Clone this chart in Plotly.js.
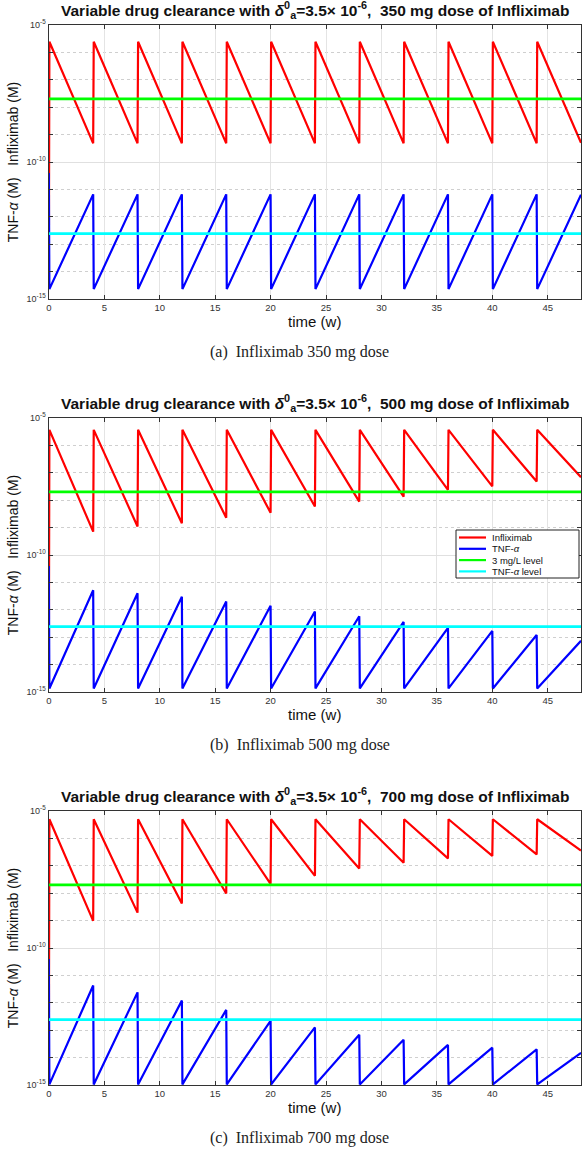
<!DOCTYPE html>
<html><head><meta charset="utf-8">
<script src="https://cdn.plot.ly/plotly-3.0.1.min.js"></script>
<style>html,body{margin:0;padding:0;background:#fff;} #chart{width:582px;height:1151px;}</style>
</head><body><div id="chart"></div>
<script>
// ---------------- data ----------------
const doseTimes   = [0, 4, 8, 12, 16, 20, 24, 28, 32, 36, 40, 44];
const troughTimes = [4, 8, 12, 16, 20, 24, 28, 32, 36, 40, 44, 48];
const doseLabels = ['350', '500', '700'];
const captionLetters = ['a', 'b', 'c'];
const xTicks = [0, 5, 10, 15, 20, 25, 30, 35, 40, 45];
const yTickVals = [1e-15, 1e-10, 1e-5];
const yTickText = ['10<sup>-15</sup>', '10<sup>-10</sup>', '10<sup>-5</sup>'];
const yMinorVals = [1e-14, 1e-13, 1e-12, 1e-11, 1e-9, 1e-8, 1e-7, 1e-6];
const seriesNames = ['Infliximab', 'TNF-α', '3 mg/L level', 'TNF-α level'];
const legendNames = ['Infliximab', 'TNF-<i>α</i>', '3 mg/L level', 'TNF-<i>α</i> level'];

const ifxInitial = 1e-14;     // before first infusion (hidden under TNF-α)
const tnfInitial = 4e-11;     // baseline TNF-α at t = 0
const ifxThreshold = 2.0e-8;  // 3 mg/L
const tnfThreshold = 2.45e-13;

// 350 mg
const ifx350Peak   = [2.45e-6, 2.45e-6, 2.45e-6, 2.45e-6, 2.45e-6, 2.45e-6, 2.45e-6, 2.45e-6, 2.45e-6, 2.45e-6, 2.45e-6, 2.45e-6];
const ifx350Trough = [4.8e-10, 4.8e-10, 4.8e-10, 4.8e-10, 4.8e-10, 4.8e-10, 4.8e-10, 4.8e-10, 4.8e-10, 4.8e-10, 4.8e-10, 5.0e-10];
const tnf350Trough = [2.3e-15, 2.3e-15, 2.3e-15, 2.3e-15, 2.3e-15, 2.3e-15, 2.3e-15, 2.3e-15, 2.3e-15, 2.3e-15, 2.3e-15, 2.3e-15];
const tnf350Peak   = [6.6e-12, 6.6e-12, 6.6e-12, 6.6e-12, 6.6e-12, 6.6e-12, 6.6e-12, 6.6e-12, 6.6e-12, 6.6e-12, 6.6e-12, 6.4e-12];

// 500 mg
const ifx500Peak   = [3.7e-6, 3.7e-6, 3.7e-6, 3.7e-6, 3.7e-6, 3.7e-6, 3.7e-6, 3.7e-6, 3.7e-6, 3.7e-6, 3.7e-6, 3.7e-6];
const ifx500Trough = [7.1e-10, 1.1e-9, 1.44e-9, 2.3e-9, 3.5e-9, 5.9e-9, 8.9e-9, 1.35e-8, 2.4e-8, 3.2e-8, 4.8e-8, 6.9e-8];
const tnf500Trough = [1.35e-15, 1.35e-15, 1.35e-15, 1.35e-15, 1.35e-15, 1.35e-15, 1.35e-15, 1.35e-15, 1.35e-15, 1.35e-15, 1.35e-15, 1.35e-15];
const tnf500Peak   = [5.2e-12, 4.0e-12, 3.0e-12, 2.0e-12, 1.4e-12, 8.7e-13, 5.8e-13, 3.6e-13, 2.2e-13, 1.7e-13, 1.2e-13, 7.4e-14];

// 700 mg
const ifx700Peak   = [5.0e-6, 5.0e-6, 5.0e-6, 5.0e-6, 5.0e-6, 5.0e-6, 5.0e-6, 5.0e-6, 5.0e-6, 5.0e-6, 5.0e-6, 5.0e-6];
const ifx700Trough = [9.8e-10, 1.95e-9, 4.2e-9, 9.8e-9, 2.2e-8, 4.3e-8, 8.0e-8, 1.3e-7, 1.86e-7, 2.3e-7, 2.6e-7, 3.6e-7];
const tnf700Trough = [1.05e-15, 1.05e-15, 1.05e-15, 1.05e-15, 1.05e-15, 1.05e-15, 1.05e-15, 1.05e-15, 1.05e-15, 1.05e-15, 1.05e-15, 1.05e-15];
const tnf700Peak   = [4.3e-12, 2.4e-12, 1.2e-12, 5.5e-13, 2.2e-13, 1.26e-13, 6.8e-14, 4.5e-14, 2.9e-14, 2.3e-14, 2.0e-14, 1.5e-14];

// ---------------- styling / layout ----------------
const W = 582, H = 1151;
const lag = 0.05;  // infusion duration (weeks)
const colors = ['#ff0000', '#0000ff', '#00ff00', '#00ffff'];
const sans = 'Liberation Sans, Arial, Helvetica, sans-serif';
const serif = 'Liberation Serif, Times New Roman, serif';
const panelTop = [25, 418, 811];
const plotH = 274;
const plotL = 48.5, plotR = 581;
const px = v => v / W;
const py = v => 1 - v / H;

function ifxSeries(peaks, troughs) {
  const x = [0], y = [ifxInitial];
  for (let i = 0; i < doseTimes.length; i++) {
    x.push(doseTimes[i] + lag); y.push(peaks[i]);
    x.push(troughTimes[i]); y.push(troughs[i]);
  }
  return {x, y};
}
function tnfSeries(peaks, troughs) {
  const x = [0], y = [tnfInitial];
  for (let i = 0; i < doseTimes.length; i++) {
    x.push(doseTimes[i] + lag); y.push(troughs[i]);
    x.push(troughTimes[i]); y.push(peaks[i]);
  }
  return {x, y};
}

const panels = [
  {ifxP: ifx350Peak, ifxT: ifx350Trough, tnfP: tnf350Peak, tnfT: tnf350Trough},
  {ifxP: ifx500Peak, ifxT: ifx500Trough, tnfP: tnf500Peak, tnfT: tnf500Trough},
  {ifxP: ifx700Peak, ifxT: ifx700Trough, tnfP: tnf700Peak, tnfT: tnf700Trough}
];

const traces = [];
const layout = {
  width: W, height: H,
  margin: {l: 0, r: 0, t: 0, b: 0},
  paper_bgcolor: '#fff', plot_bgcolor: '#fff',
  showlegend: false,
  font: {family: sans, color: '#222', size: 12},
  annotations: [], shapes: []
};

panels.forEach((p, k) => {
  const sx = k === 0 ? '' : String(k + 1);
  const xa = 'x' + sx, ya = 'y' + sx;
  const ifx = ifxSeries(p.ifxP, p.ifxT);
  const tnf = tnfSeries(p.tnfP, p.tnfT);
  traces.push({x: ifx.x, y: ifx.y, xaxis: xa, yaxis: ya, mode: 'lines', name: seriesNames[0],
               line: {color: colors[0], width: 2.2}});
  traces.push({x: tnf.x, y: tnf.y, xaxis: xa, yaxis: ya, mode: 'lines', name: seriesNames[1],
               line: {color: colors[1], width: 2.2}});
  traces.push({x: [0, 48], y: [ifxThreshold, ifxThreshold], xaxis: xa, yaxis: ya, mode: 'lines', name: seriesNames[2],
               line: {color: colors[2], width: 2.8}});
  traces.push({x: [0, 48], y: [tnfThreshold, tnfThreshold], xaxis: xa, yaxis: ya, mode: 'lines', name: seriesNames[3],
               line: {color: colors[3], width: 2.8}});

  const top = panelTop[k], bot = top + plotH;
  layout['xaxis' + sx] = {
    domain: [px(plotL), px(plotR)], anchor: ya, range: [-0.03, 48],
    tickmode: 'array', tickvals: xTicks, ticks: 'inside', ticklen: 4, tickcolor: '#333',
    showline: true, linecolor: '#333', linewidth: 1, mirror: 'ticks',
    showgrid: true, gridcolor: '#e4e4e4', gridwidth: 1, zeroline: false,
    tickfont: {size: 9.5, color: '#333', family: sans},
    title: {text: 'time (w)', font: {size: 15, color: '#111', family: sans}, standoff: 3}
  };
  layout['yaxis' + sx] = {
    domain: [py(bot), py(top)], anchor: xa, type: 'log', range: [-15, -5],
    tickmode: 'array', tickvals: yTickVals, ticktext: yTickText,
    ticks: 'inside', ticklen: 4, tickcolor: '#333',
    showline: true, linecolor: '#333', linewidth: 1, mirror: 'ticks',
    showgrid: true, gridcolor: '#e0e0e0', gridwidth: 1, zeroline: false,
    tickfont: {size: 9, color: '#333', family: sans},
    minor: {tickmode: 'array', tickvals: yMinorVals, ticks: 'inside', ticklen: 4, tickcolor: '#333',
            showgrid: true, gridcolor: '#cfcfcf', griddash: 'dot', gridwidth: 1},
    title: {text: 'TNF-<i>α</i> (M)   Infliximab (M)', font: {size: 14, color: '#111', family: sans}, standoff: 4}
  };
  // panel title
  layout.annotations.push({
    xref: 'paper', yref: 'paper', x: px(314.5), y: py(top - 15), xanchor: 'center', yanchor: 'middle',
    showarrow: false,
    text: '<b>Variable drug clearance with <i>δ</i><sup>0</sup><sub>a</sub>=3.5× 10<sup>-6</sup>,  ' + doseLabels[k] + ' mg dose of Infliximab</b>',
    font: {size: 15.5, family: sans, color: '#111'}
  });
  // caption
  layout.annotations.push({
    xref: 'paper', yref: 'paper', x: px(300), y: py(top + 327), xanchor: 'center', yanchor: 'middle',
    showarrow: false,
    text: '(' + captionLetters[k] + ')  Infliximab ' + doseLabels[k] + ' mg dose',
    font: {size: 16, family: serif, color: '#222'}
  });
});

// legend (panel b)
const lgX0 = 456, lgX1 = 579, lgY0 = 530, lgY1 = 578;
layout.shapes.push({type: 'rect', xref: 'paper', yref: 'paper', x0: px(lgX0), x1: px(lgX1), y0: py(lgY1), y1: py(lgY0),
                    line: {color: '#222', width: 1}, fillcolor: '#fff', layer: 'above'});
const rowY = [537.5, 548.8, 560.1, 571.4];
legendNames.forEach((nm, i) => {
  layout.shapes.push({type: 'line', xref: 'paper', yref: 'paper', x0: px(459), x1: px(486), y0: py(rowY[i]), y1: py(rowY[i]),
                      line: {color: colors[i], width: 2.2}, layer: 'above'});
  layout.annotations.push({xref: 'paper', yref: 'paper', x: px(490), y: py(rowY[i]), xanchor: 'left', yanchor: 'middle',
                           showarrow: false, text: nm, font: {size: 9.5, family: sans, color: '#111'}});
});

Plotly.newPlot('chart', traces, layout, {staticPlot: true, displayModeBar: false});
</script>
</body></html>
